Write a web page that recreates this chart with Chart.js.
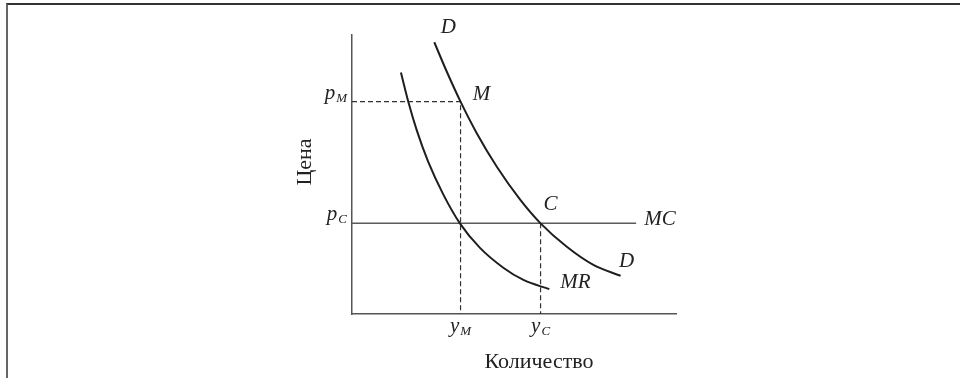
<!DOCTYPE html>
<html><head><meta charset="utf-8">
<script src="https://cdn.jsdelivr.net/npm/chart.js@4/dist/chart.umd.min.js"></script>
<style>
html,body{margin:0;padding:0;background:#fff;}
#wrap{position:relative;width:960px;height:378px;overflow:hidden;background:#fff;}
#frame{position:absolute;left:6px;top:3px;width:1000px;height:420px;border-top:2px solid #333;border-left:2px solid #666;box-sizing:border-box;}
canvas{position:absolute;left:0;top:0;}
</style></head><body>
<div id="wrap"><div id="frame"></div><canvas id="c" width="960" height="378"></canvas></div>
<script>
// Demand curve D (quantity, price)
const demandQ = [2.54, 2.92, 3.35, 3.85, 4.47, 5.19, 5.82, 6.63, 7.45, 8.29];
const demandP = [9.74, 8.70, 7.61, 6.48, 5.28, 4.10, 3.25, 2.41, 1.76, 1.37];
// Marginal revenue curve MR
const mrQ = [1.51, 1.74, 2.00, 2.35, 2.82, 3.33, 3.95, 4.67, 5.29, 6.09];
const mrP = [8.66, 7.60, 6.58, 5.46, 4.28, 3.25, 2.37, 1.66, 1.22, 0.89];
// Marginal cost (flat) line MC
const mcQ = [0, 8.77];
const mcP = [3.25, 3.25];
// Key levels
const priceLevels = [7.61, 3.25];      // p_M, p_C
const priceLabels = [['p','M'], ['p','C']];
const qtyLevels = [3.35, 5.82];        // y_M, y_C
const qtyLabels = [['y','M'], ['y','C']];
const axisMax = [10, 10];

const pts = (xs, ys) => xs.map((x, i) => ({x: x, y: ys[i]}));

const pM = priceLevels[0], pC = priceLevels[1];
const yM = qtyLevels[0], yC = qtyLevels[1];

const serif = "'Liberation Serif', 'Times New Roman', serif";

const labelPlugin = {
  id: 'labels',
  afterDraw(chart) {
    const ctx = chart.ctx, xs = chart.scales.x, ys = chart.scales.y, ca = chart.chartArea;
    ctx.save();
    ctx.fillStyle = '#222';
    ctx.textBaseline = 'alphabetic';
    const subLabel = (main, sub, x, yb, align) => {
      ctx.font = 'italic 21px ' + serif;
      const w1 = ctx.measureText(main).width;
      ctx.font = 'italic 13px ' + serif;
      const w2 = ctx.measureText(sub).width;
      const tot = w1 + w2 + 1;
      let left = align === 'right' ? x - tot : x - tot / 2;
      ctx.textAlign = 'left';
      ctx.font = 'italic 21px ' + serif;
      ctx.fillText(main, left, yb);
      ctx.font = 'italic 13px ' + serif;
      ctx.fillText(sub, left + w1 + 1, yb + 3);
    };
    priceLevels.forEach((v, i) => {
      const py = ys.getPixelForValue(v);
      subLabel(priceLabels[i][0], priceLabels[i][1], ca.left - 5, py - 3, 'right');
    });
    qtyLevels.forEach((v, i) => {
      const px = xs.getPixelForValue(v);
      subLabel(qtyLabels[i][0], qtyLabels[i][1], px, ca.bottom + 18, 'center');
    });
    ctx.font = 'italic 21px ' + serif;
    ctx.textAlign = 'center';
    const X = v => xs.getPixelForValue(v), Y = v => ys.getPixelForValue(v);
    ctx.fillText('D', X(demandQ[0]) + 14, Y(demandP[0]) - 9);
    ctx.fillText('M', X(yM) + 21, Y(pM) - 2);
    ctx.fillText('C', X(yC) + 10, Y(pC) - 13);
    ctx.fillText('D', X(demandQ[demandQ.length - 1]) + 6, Y(demandP[demandP.length - 1]) - 9);
    ctx.fillText('MR', X(mrQ[mrQ.length - 1]) + 26, Y(mrP[mrP.length - 1]) - 1);
    ctx.textAlign = 'left';
    ctx.fillText('MC', X(mcQ[1]) + 8, Y(mcP[1]) + 2);
    ctx.font = '22px ' + serif;
    ctx.textAlign = 'center';
    ctx.fillText('Количество', ca.left + 187, ca.bottom + 54);
    ctx.save();
    ctx.translate(ca.left - 47, ca.top + 127);
    ctx.rotate(-Math.PI / 2);
    ctx.textBaseline = 'middle';
    ctx.fillText('Цена', 0, 0);
    ctx.restore();
    ctx.restore();
  }
};

new Chart(document.getElementById('c'), {
  type: 'scatter',
  data: {
    datasets: [
      {label: 'D', data: pts(demandQ, demandP), showLine: true, borderColor: '#1e1e1e', borderWidth: 2, pointRadius: 0, cubicInterpolationMode: 'monotone'},
      {label: 'MR', data: pts(mrQ, mrP), showLine: true, borderColor: '#1e1e1e', borderWidth: 2, pointRadius: 0, cubicInterpolationMode: 'monotone'},
      {label: 'MC', data: pts(mcQ, mcP), showLine: true, borderColor: '#5a5a5a', borderWidth: 1.5, pointRadius: 0},
      {label: 'pM guide', data: [{x: 0, y: pM}, {x: yM, y: pM}, {x: yM, y: 0}], showLine: true, borderColor: '#333', borderWidth: 1.2, borderDash: [5, 3], pointRadius: 0},
      {label: 'yC guide', data: [{x: yC, y: pC}, {x: yC, y: 0}], showLine: true, borderColor: '#333', borderWidth: 1.2, borderDash: [5, 3], pointRadius: 0}
    ]
  },
  options: {
    responsive: false,
    animation: false,
    layout: {padding: {left: 352, right: 284, top: 35, bottom: 64}},
    plugins: {legend: {display: false}, tooltip: {enabled: false}},
    scales: {
      x: {type: 'linear', min: 0, max: axisMax[0], ticks: {display: false}, grid: {display: false, drawTicks: false}, border: {display: true, color: '#555', width: 1.5}},
      y: {type: 'linear', min: 0, max: axisMax[1], ticks: {display: false}, grid: {display: false, drawTicks: false}, border: {display: true, color: '#555', width: 1.5}}
    }
  },
  plugins: [labelPlugin]
});
</script>
</body></html>
